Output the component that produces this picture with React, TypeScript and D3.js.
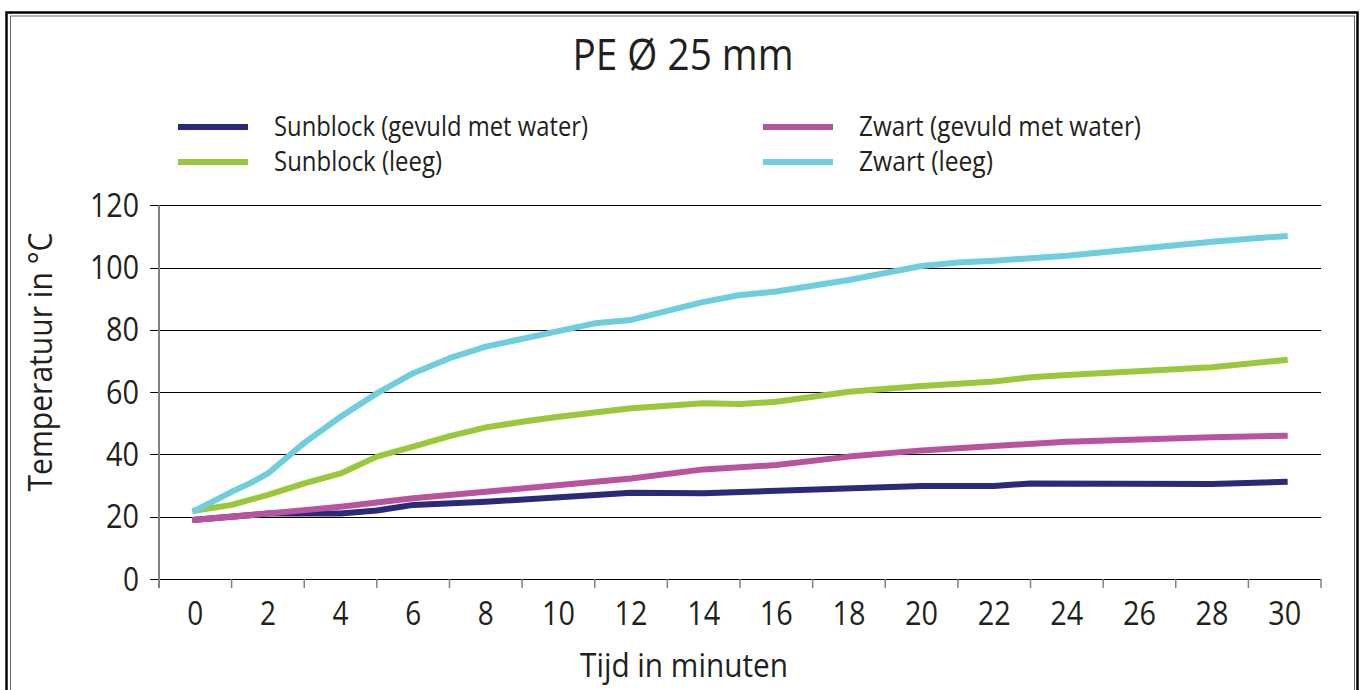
import React from "react";
import * as d3 from "d3";

const categories = ["0","2","4","6","8","10","12","14","16","18","20","22","24","26","28","30"];
const yTicks = [0, 20, 40, 60, 80, 100, 120];

const navyT = [0, 2, 4, 5, 6, 8, 12, 14, 20, 22, 23, 28, 30];
const navyV = [19, 21, 21, 22, 23.8, 24.8, 27.7, 27.5, 29.9, 29.9, 30.7, 30.5, 31.2];

const greenT = [0, 1, 2, 3, 4, 5, 6, 7, 8, 9, 10, 12, 14, 15, 16, 18, 20, 22, 23, 24, 28, 30];
const greenV = [22, 23.8, 27, 30.7, 33.9, 39.3, 42.5, 45.9, 48.7, 50.5, 52.1, 54.8, 56.4, 56.2, 56.9, 60.1, 62, 63.4, 64.8, 65.5, 68, 70.3];

const magT = [0, 2, 4, 6, 8, 12, 14, 16, 18, 20, 22, 24, 28, 30];
const magV = [19, 21, 23.2, 25.9, 28, 32.3, 35.2, 36.6, 39.3, 41.3, 42.7, 44.1, 45.5, 46];

const cyanT = [0, 1, 1.5, 2, 3, 4, 5, 6, 7, 8, 11, 12, 14, 15, 16, 18, 20, 21, 22, 24, 28, 30];
const cyanV = [22, 28, 30.7, 33.9, 43.7, 52.1, 59.6, 66.1, 70.9, 74.6, 82.1, 83.2, 89, 91.2, 92.3, 96, 100.5, 101.6, 102.2, 103.8, 108.3, 110.1];

const seriesNames = [
  "Sunblock (gevuld met water)",
  "Sunblock (leeg)",
  "Zwart (gevuld met water)",
  "Zwart (leeg)",
];
const seriesColors = ["#2a2a78", "#9ac83a", "#b9539d", "#6ecedd"];
const seriesT = [navyT, greenT, magT, cyanT];
const seriesV = [navyV, greenV, magV, cyanV];

const FONT = "'Open Sans', 'Liberation Sans', sans-serif";

export default function App() {
  const W = 1361, H = 690;
  const left = 159, right = 1321, top = 205.3, bottom = 579;
  const band = d3.scaleBand<string>().domain(categories).range([left, right]).paddingInner(0).paddingOuter(0);
  const bw = band.bandwidth();
  const x = d3.scaleLinear().domain([0, 30]).range([band("0")! + bw / 2, band("30")! + bw / 2]);
  const y = d3.scaleLinear().domain([0, 120]).range([bottom, top]);
  const line = d3.line<[number, number]>().x(d => x(d[0])).y(d => y(d[1]));

  const legendItems = [
    { i: 0, lx: 178, ly: 127 },
    { i: 1, lx: 178, ly: 162 },
    { i: 2, lx: 763, ly: 127 },
    { i: 3, lx: 763, ly: 162 },
  ];
  const legendTextLen = [314, 168, 282, 134];

  return (
    <svg width={W} height={H} style={{ position: "absolute", left: 0, top: 0, background: "#fff" }}>
      {/* frame */}
      <rect x={6.5} y={12.5} width={1351} height={700} fill="none" stroke="#000" strokeWidth={2.5} />
      <rect x={10.5} y={16} width={1344} height={700} fill="none" stroke="#666" strokeWidth={1} />

      {/* title */}
      <text x={683} y={70} textAnchor="middle" fontFamily={FONT} fontSize={44} fill="#231f20"
        textLength={221} lengthAdjust="spacingAndGlyphs">PE Ø 25 mm</text>

      {/* legend */}
      {legendItems.map(({ i, lx, ly }) => (
        <g key={i}>
          <line x1={lx} x2={lx + 70} y1={ly} y2={ly} stroke={seriesColors[i]} strokeWidth={6} />
          <text x={lx + 96} y={ly} dy="0.35em" fontFamily={FONT} fontSize={27} fill="#231f20"
            textLength={legendTextLen[i]} lengthAdjust="spacingAndGlyphs">{seriesNames[i]}</text>
        </g>
      ))}

      {/* gridlines */}
      {yTicks.map(t => (
        <line key={t} x1={150} x2={right} y1={Math.round(y(t)) + 0.5} y2={Math.round(y(t)) + 0.5}
          stroke="#000" strokeWidth={1.2} />
      ))}
      {/* y axis */}
      <line x1={left} x2={left} y1={y(120)} y2={bottom + 9} stroke="#808080" strokeWidth={2} />
      {/* x ticks */}
      {categories.map(c => (
        <line key={"t" + c} x1={band(c)!} x2={band(c)!} y1={bottom} y2={bottom + 9}
          stroke="#808080" strokeWidth={1.5} />
      ))}
      <line x1={right} x2={right} y1={bottom} y2={bottom + 9} stroke="#808080" strokeWidth={1.5} />

      {/* y tick labels */}
      {yTicks.map(t => (
        <text key={"yl" + t} x={139} y={y(t)} dy="0.36em" textAnchor="end" fontFamily={FONT}
          fontSize={32} fill="#231f20" textLength={t >= 100 ? 49 : t === 0 ? 16 : 33}
          lengthAdjust="spacingAndGlyphs">{t}</text>
      ))}
      {/* x tick labels */}
      {categories.map(c => (
        <text key={"xl" + c} x={band(c)! + bw / 2} y={625} textAnchor="middle" fontFamily={FONT}
          fontSize={32} fill="#231f20" textLength={c.length > 1 ? 33 : 16}
          lengthAdjust="spacingAndGlyphs">{c}</text>
      ))}

      {/* axis titles */}
      <text x={684} y={677} textAnchor="middle" fontFamily={FONT} fontSize={32} fill="#231f20"
        textLength={208} lengthAdjust="spacingAndGlyphs">Tijd in minuten</text>
      <text transform="translate(52,362) rotate(-90)" textAnchor="middle" fontFamily={FONT} fontSize={32}
        fill="#231f20" textLength={259} lengthAdjust="spacingAndGlyphs">Temperatuur in °C</text>

      {/* series */}
      {seriesT.map((ts, si) => (
        <path key={"s" + si} d={line(ts.map((t, k) => [t, seriesV[si][k]] as [number, number]))!}
          fill="none" stroke={seriesColors[si]} strokeWidth={6} strokeLinecap="square" strokeLinejoin="round" />
      ))}
    </svg>
  );
}
